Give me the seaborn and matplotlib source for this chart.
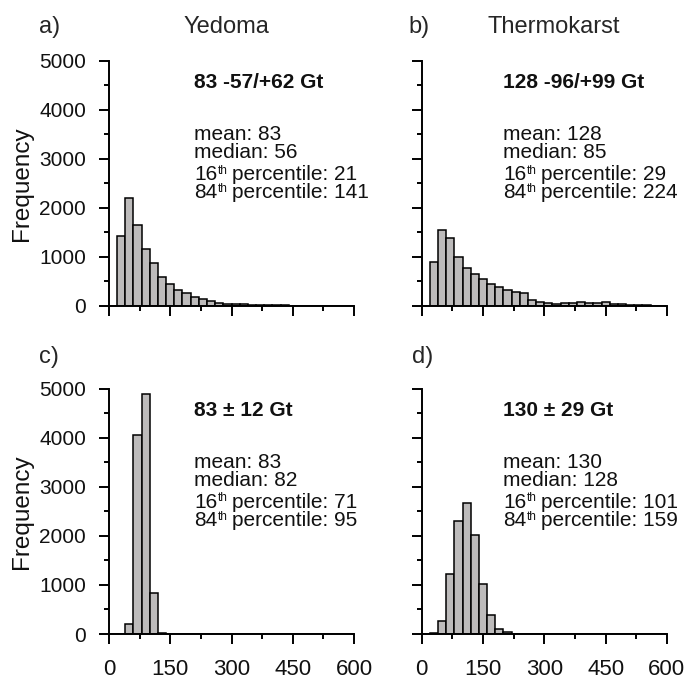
import matplotlib
matplotlib.use("Agg")
import matplotlib.pyplot as plt
import seaborn as sns
from matplotlib.ticker import MultipleLocator
from matplotlib.transforms import offset_copy

# histogram bins (Gt), 20 Gt wide
bin_edges = list(range(0, 620, 20))
bin_starts = bin_edges[:-1]

# counts, one per bin
yedoma_a = [0, 1420, 2210, 1660, 1160, 870, 590, 440, 320, 265,
            190, 135, 100, 65, 48, 50, 34, 27, 20, 25,
            14, 12, 10, 8, 8, 6, 5, 5, 4, 4]
thermokarst_b = [0, 905, 1551, 1395, 993, 782, 645, 545, 450, 380,
                 325, 295, 258, 130, 90, 68, 48, 54, 68, 75,
                 68, 61, 75, 48, 34, 27, 14, 12, 10, 10]
yedoma_c = [0, 5, 195, 4050, 4900, 830, 30, 0, 0, 0,
            0, 0, 0, 0, 0, 0, 0, 0, 0, 0,
            0, 0, 0, 0, 0, 0, 0, 0, 0, 0]
thermokarst_d = [0, 25, 275, 1230, 2300, 2670, 2010, 1010, 395, 109,
                 36, 10, 3, 0, 0, 0, 0, 0, 0, 0,
                 0, 0, 0, 0, 0, 0, 0, 0, 0, 0]

panel_letters = ["a)", "b)", "c)", "d)"]
panel_titles = ["Yedoma", "Thermokarst"]
headlines = ["83 -57/+62 Gt", "128 -96/+99 Gt", "83 \u00b1 12 Gt", "130 \u00b1 29 Gt"]
stats = [
    (83, 56, 21, 141),
    (128, 85, 29, 224),
    (83, 82, 71, 95),
    (130, 128, 101, 159),
]
x_ticks = [0, 150, 300, 450, 600]

sns.set_theme(style="ticks")
plt.rcParams["font.family"] = ["Liberation Sans", "DejaVu Sans"]

fig = plt.figure(figsize=(6.85, 6.8), dpi=100)
renderer = fig.canvas.get_renderer()

positions = [
    [0.159, 0.550, 0.358, 0.3603],
    [0.6156, 0.550, 0.358, 0.3603],
    [0.159, 0.0676, 0.358, 0.3608],
    [0.6156, 0.0676, 0.358, 0.3608],
]
series = [yedoma_a, thermokarst_b, yedoma_c, thermokarst_d]
text_x = [0.347, 0.333, 0.347, 0.333]
ink = "#111111"


def percentile_line(ax, x, y, num, value):
    # "16" + small raised "th" + " percentile: NN"
    t1 = ax.text(x, y, num, transform=ax.transAxes, fontsize=15,
                 va="baseline", ha="left", color=ink)
    w1 = t1.get_window_extent(renderer).width
    tr2 = offset_copy(ax.transAxes, fig=fig, x=w1 + 0.5, y=6.5, units="dots")
    t2 = ax.text(x, y, "th", transform=tr2, fontsize=8.5,
                 va="baseline", ha="left", color=ink)
    w2 = t2.get_window_extent(renderer).width
    tr3 = offset_copy(ax.transAxes, fig=fig, x=w1 + w2 + 5, y=0, units="dots")
    ax.text(x, y, f"percentile: {value}", transform=tr3, fontsize=15,
            va="baseline", ha="left", color=ink)


for i, (pos, counts) in enumerate(zip(positions, series)):
    ax = fig.add_axes(pos)
    sns.histplot(x=bin_starts, weights=counts, bins=bin_edges, ax=ax,
                 color="#bdbbbb", edgecolor="black", linewidth=1.1, alpha=1)
    ax.set_xlim(0, 600)
    ax.set_ylim(0, 5000)
    ax.set_xticks(x_ticks)
    ax.xaxis.set_minor_locator(MultipleLocator(75))
    ax.yaxis.set_major_locator(MultipleLocator(1000))
    ax.yaxis.set_minor_locator(MultipleLocator(500))
    ax.set_xlabel("")
    ax.set_ylabel("")
    sns.despine(ax=ax)
    for side in ["left", "bottom"]:
        ax.spines[side].set_linewidth(1.4)
        ax.spines[side].set_color("black")
    ax.tick_params(which="major", length=7.2, width=1.4, color="black")
    ax.tick_params(which="minor", length=3.6, width=1.4, color="black")
    ax.tick_params(axis="y", labelsize=15, pad=9.3, labelcolor=ink)
    ax.tick_params(axis="x", labelsize=16, pad=10.5, labelcolor=ink)
    if i in (1, 3):
        ax.tick_params(axis="y", labelleft=False)
    if i in (0, 1):
        ax.tick_params(axis="x", labelbottom=False)

    tx = text_x[i]
    mean, median, p16, p84 = stats[i]
    ax.text(tx, 0.889, headlines[i], transform=ax.transAxes, fontsize=15,
            fontweight="bold", va="baseline", ha="left", color=ink)
    ax.text(tx, 0.678, f"mean: {mean}", transform=ax.transAxes, fontsize=15,
            va="baseline", ha="left", color=ink)
    ax.text(tx, 0.603, f"median: {median}", transform=ax.transAxes, fontsize=15,
            va="baseline", ha="left", color=ink)
    percentile_line(ax, tx, 0.514, "16", p16)
    percentile_line(ax, tx, 0.440, "84", p84)

    if i in (0, 2):
        fig.text(0.0317, pos[1] + pos[3] / 2, "Frequency", rotation=90,
                 fontsize=17.5, ha="center", va="center", color=ink)

# panel letters and titles
fig.text(0.057, 1 - 33.3 / 680, panel_letters[0], fontsize=17, va="baseline", ha="left")
fig.text(0.596, 1 - 33.3 / 680, panel_letters[1], fontsize=17, va="baseline", ha="left")
fig.text(0.057, 1 - 363.3 / 680, panel_letters[2], fontsize=17, va="baseline", ha="left")
fig.text(0.601, 1 - 363.3 / 680, panel_letters[3], fontsize=17, va="baseline", ha="left")
fig.text(0.331, 1 - 33.3 / 680, panel_titles[0], fontsize=17, va="baseline", ha="center")
fig.text(0.809, 1 - 33.3 / 680, panel_titles[1], fontsize=17, va="baseline", ha="center")

fig.savefig("out.png", dpi=100)
plt.close(fig)
